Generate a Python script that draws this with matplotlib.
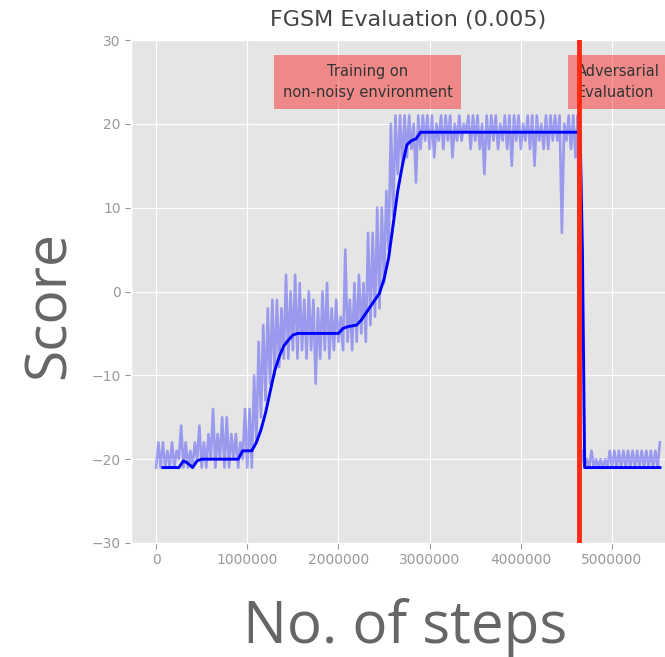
import numpy as np
import matplotlib
matplotlib.use('Agg')
import matplotlib.pyplot as plt

plt.style.use('ggplot')

# episode scores, one every 25000 steps
raw_score = [
    -21, -18, -21, -18, -21, -19, -21, -18, -21, -19,
    -20, -16, -21, -18, -21, -19, -21, -18, -20, -16,
    -21, -18, -21, -17, -20, -14, -21, -17, -20, -15,
    -21, -15, -21, -17, -20, -17, -21, -18, -20, -14,
    -21, -14, -21, -10, -18, -6, -15, -4, -13, -2,
    -11, -1, -10, -1, -9, -2, -8, 2, -8, 0,
    -7, 2, -8, 1, -7, -1, -8, 0, -7, -1,
    -11, -2, -8, 0, -7, 1, -8, -2, -7, -1,
    -6, -3, -7, 5, -6, -1, -7, 1, -6, 2,
    -5, 1, -6, 7, -4, 7, -3, 10, -2, 10,
    1, 12, 5, 20, 9, 21, 14, 21, 15, 21,
    16, 21, 17, 20, 13, 21, 17, 21, 18, 21,
    17, 21, 16, 20, 18, 21, 17, 21, 18, 21,
    16, 20, 18, 21, 18, 20, 19, 21, 17, 21,
    18, 21, 17, 20, 14, 21, 17, 21, 18, 21,
    17, 20, 18, 21, 17, 21, 15, 21, 18, 21,
    17, 20, 18, 21, 17, 21, 15, 21, 18, 20,
    17, 21, 17, 21, 18, 21, 18, 21, 7, 20,
    18, 21, 17, 21, 16, 21, -21, -19, -21, -20,
    -21, -19, -21, -20, -21, -20, -21, -20, -21, -19,
    -21, -19, -21, -19, -21, -19, -21, -19, -21, -19,
    -21, -19, -21, -19, -21, -19, -21, -19, -21, -19,
    -21, -18,
]
raw_steps = np.arange(len(raw_score)) * 25000

# running mean
smooth_steps = [75000, 250000, 300000, 350000, 400000, 450000, 500000, 900000,
                950000, 1050000, 1100000, 1150000, 1200000, 1250000, 1300000,
                1350000, 1400000, 1450000, 1500000, 1550000, 2000000, 2050000,
                2100000, 2200000, 2250000, 2300000, 2350000, 2400000, 2450000,
                2500000, 2550000, 2600000, 2650000, 2700000, 2750000, 2800000,
                2850000, 2900000, 4650000, 4675000, 4700000, 5525000]
smooth_score = [-21, -21, -20.2, -20.5, -21, -20.2, -20, -20,
                -19, -19, -18, -16.5, -14.5, -12, -9.5,
                -7.8, -6.5, -5.8, -5.2, -5, -5, -4.4,
                -4.2, -4, -3.4, -2.6, -1.8, -1, -0.2,
                1.5, 4, 8, 12, 15, 17.5, 18,
                18.2, 19, 19, 5, -21, -21]

adv_start = 4640000

fig = plt.figure(figsize=(6.65, 6.57), dpi=100)
ax = fig.add_axes([131 / 665, 114 / 657, 554 / 665, 503 / 657])

ax.plot(raw_steps, raw_score, color='blue', alpha=0.33, lw=1.9)
ax.plot(smooth_steps, smooth_score, color='blue', lw=2.1)
ax.axvline(adv_start, color='#ff2a10', lw=3.5, zorder=5)

box = dict(boxstyle='square,pad=0.6', facecolor='red', alpha=0.4, edgecolor='none')
ax.text(2320000, 25, 'Training on\nnon-noisy environment', ha='center', va='center',
        fontsize=10.5, color='#333333', linespacing=1.5, bbox=box)
ax.text(4617000, 25, 'Adversarial\nEvaluation', ha='left', va='center',
        fontsize=10.5, color='#333333', linespacing=1.5, bbox=box)

ax.set_xlim(-275000, 5800000)
ax.set_ylim(-30, 30)
ax.set_xticks(np.arange(0, 5000001, 1000000))
ax.set_yticks(np.arange(-30, 31, 10))
ax.ticklabel_format(axis='x', style='plain')
ax.tick_params(labelsize=10, colors='#999999', length=4)
ax.set_title('FGSM Evaluation (0.005)', fontsize=16, color='#444444', pad=10)

fig.text(50 / 665, 1 - 305 / 657, 'Score', rotation=90, ha='center', va='center',
         fontsize=41, color='#666666', family='Open Sans')
fig.text(405 / 665, 1 - 643 / 657, 'No. of steps', ha='center', va='baseline',
         fontsize=42, color='#666666', family='Open Sans')

fig.savefig('out.png', dpi=100)
